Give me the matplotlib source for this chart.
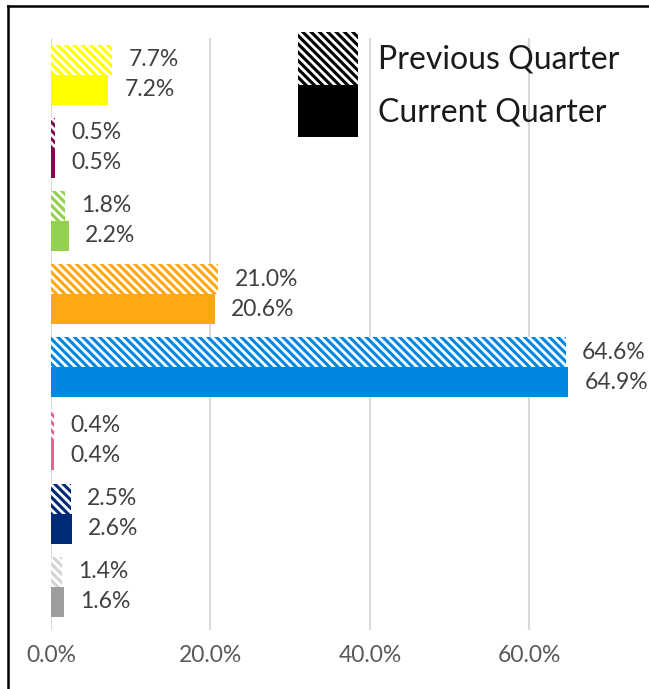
import matplotlib.pyplot as plt
from matplotlib.lines import Line2D
from matplotlib.patches import Patch
import numpy as np

# data, top to bottom
prev_vals = [7.7, 0.5, 1.8, 21.0, 64.6, 0.4, 2.5, 1.4]
cur_vals = [7.2, 0.5, 2.2, 20.6, 64.9, 0.4, 2.6, 1.6]
cur_colors = ['#FFFF00', '#820A4E', '#92D050', '#FFA812', '#0088E0',
              '#EE5F8E', '#002A75', '#9E9E9E']
prev_colors = ['#FFFF00', '#820A4E', '#92D050', '#FFA812', '#0088E0',
               '#EE5F8E', '#002A75', '#D4D4D4']
xticks = [0, 20, 40, 60]

plt.rcParams['font.family'] = ['Lato', 'DejaVu Sans']
plt.rcParams['hatch.linewidth'] = 2.0

fig = plt.figure(figsize=(6.49, 6.89), dpi=100)
ax = fig.add_axes([51/649, 59/689, 598/649, 592/689])

y = np.arange(len(cur_vals))
h = 0.41
ax.barh(y - h/2, prev_vals, height=h, color=prev_colors, edgecolor='white',
        linewidth=0, hatch='\\\\\\\\')
ax.barh(y + h/2, cur_vals, height=h, color=cur_colors, linewidth=0)

for i in range(len(y)):
    ax.annotate('%.1f%%' % prev_vals[i], (prev_vals[i], y[i] - h/2),
                xytext=(16, 0), textcoords='offset pixels', va='center',
                fontsize=16.5, color='#404040')
    ax.annotate('%.1f%%' % cur_vals[i], (cur_vals[i], y[i] + h/2),
                xytext=(16, 0), textcoords='offset pixels', va='center',
                fontsize=16.5, color='#404040')

ax.set_xlim(0, 75)
ax.set_ylim(7.59, -0.5)
ax.set_xticks(xticks)
ax.set_xticklabels(['%.1f%%' % t for t in xticks], fontsize=16.5, color='#595959')
ax.set_yticks([])
ax.tick_params(axis='x', length=0, pad=11)
ax.grid(axis='x', color='#D9D9D9', linewidth=1.5)
ax.set_axisbelow(True)
for s in ax.spines.values():
    s.set_visible(False)

handles = [Patch(facecolor='black', edgecolor='white', linewidth=0, hatch='\\\\\\\\'),
           Patch(facecolor='black', linewidth=0)]
fig.legend(handles, ['Previous Quarter', 'Current Quarter'],
           loc='upper left', bbox_to_anchor=(298/649, 1 - 32/689),
           frameon=False, fontsize=23, handlelength=1.88, handleheight=2.16,
           labelspacing=0, handletextpad=0.62, borderpad=0, borderaxespad=0,
           labelcolor='#1a1a1a')

# outer border (left and top)
fig.add_artist(Line2D([8/649, 8/649], [0, 1 - 6/689], color='black', lw=1.8))
fig.add_artist(Line2D([8/649, 1], [1 - 6/689, 1 - 6/689], color='black', lw=1.8))

fig.savefig('out.png', dpi=100)
